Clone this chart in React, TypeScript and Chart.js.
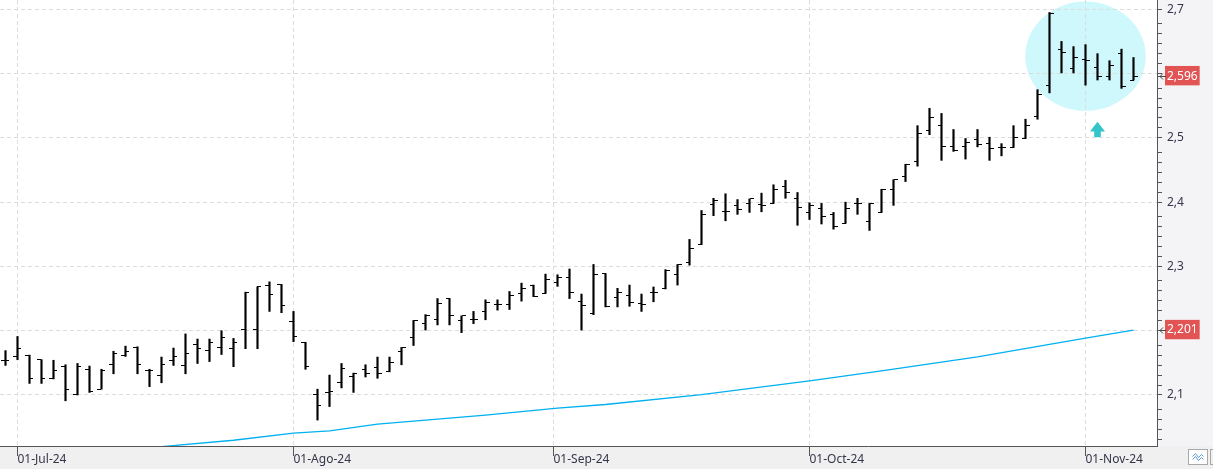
import React, { useEffect, useRef } from 'react';
import { Chart, registerables } from 'chart.js';

Chart.register(...registerables);

// ---- Data (daily OHLC, 28-Jun-24 .. 07-Nov-24; index = trading day) ----
const opens = [
  2.153, 2.160, 2.161, 2.155, 2.126, 2.145, 2.100, 2.139, 2.109, 2.148,
  2.161, 2.174, 2.138, 2.131, 2.153, 2.146, 2.178, 2.169, 2.174, 2.173,
  2.202, 2.202, 2.271, 2.272, 2.215, 2.182, 2.100, 2.104, 2.120, 2.129,
  2.140, 2.142, 2.137, 2.167, 2.190, 2.211, 2.217, 2.250, 2.216, 2.217,
  2.230, 2.240, 2.240, 2.258, 2.271, 2.258, 2.275, 2.282, 2.245, 2.226,
  2.289, 2.251, 2.254, 2.243, 2.259, 2.266, 2.288, 2.306, 2.334, 2.396,
  2.386, 2.394, 2.398, 2.396, 2.398, 2.424, 2.405, 2.384, 2.390, 2.380,
  2.367, 2.398, 2.370, 2.384, 2.420, 2.440, 2.464, 2.512, 2.519, 2.486,
  2.486, 2.497, 2.491, 2.485, 2.485, 2.499, 2.534, 2.581, 2.638, 2.608,
  2.622, 2.610, 2.595, 2.632, 2.590,
];
const highs = [
  2.169, 2.191, 2.162, 2.155, 2.154, 2.147, 2.149, 2.145, 2.140, 2.168,
  2.176, 2.175, 2.140, 2.159, 2.173, 2.195, 2.187, 2.187, 2.200, 2.188,
  2.260, 2.268, 2.276, 2.272, 2.230, 2.182, 2.109, 2.131, 2.149, 2.134,
  2.147, 2.159, 2.159, 2.174, 2.216, 2.225, 2.250, 2.250, 2.223, 2.230,
  2.248, 2.248, 2.261, 2.274, 2.271, 2.288, 2.287, 2.296, 2.257, 2.303,
  2.289, 2.266, 2.271, 2.257, 2.268, 2.295, 2.303, 2.342, 2.387, 2.406,
  2.413, 2.404, 2.405, 2.414, 2.427, 2.434, 2.415, 2.399, 2.398, 2.384,
  2.400, 2.406, 2.398, 2.420, 2.435, 2.459, 2.519, 2.546, 2.538, 2.513,
  2.499, 2.513, 2.501, 2.491, 2.519, 2.529, 2.575, 2.695, 2.650, 2.642,
  2.645, 2.631, 2.620, 2.638, 2.625,
];
const lows = [
  2.146, 2.155, 2.118, 2.118, 2.125, 2.091, 2.100, 2.104, 2.109, 2.133,
  2.160, 2.133, 2.113, 2.119, 2.146, 2.133, 2.149, 2.152, 2.163, 2.144,
  2.172, 2.172, 2.230, 2.228, 2.183, 2.140, 2.061, 2.082, 2.111, 2.104,
  2.128, 2.126, 2.136, 2.147, 2.177, 2.201, 2.209, 2.209, 2.197, 2.211,
  2.217, 2.232, 2.233, 2.246, 2.253, 2.258, 2.269, 2.250, 2.201, 2.225,
  2.237, 2.237, 2.238, 2.230, 2.245, 2.265, 2.271, 2.302, 2.334, 2.379,
  2.371, 2.381, 2.384, 2.385, 2.398, 2.406, 2.364, 2.373, 2.366, 2.358,
  2.367, 2.381, 2.356, 2.384, 2.395, 2.432, 2.456, 2.505, 2.465, 2.479,
  2.467, 2.486, 2.465, 2.472, 2.485, 2.499, 2.529, 2.570, 2.601, 2.601,
  2.582, 2.590, 2.590, 2.577, 2.590,
];
const closes = [
  2.153, 2.173, 2.126, 2.125, 2.138, 2.109, 2.144, 2.105, 2.138, 2.165,
  2.168, 2.148, 2.138, 2.148, 2.160, 2.164, 2.173, 2.182, 2.190, 2.182,
  2.260, 2.268, 2.257, 2.239, 2.191, 2.144, 2.083, 2.105, 2.141, 2.133,
  2.134, 2.134, 2.150, 2.174, 2.216, 2.224, 2.243, 2.223, 2.223, 2.217,
  2.244, 2.240, 2.254, 2.265, 2.253, 2.280, 2.282, 2.260, 2.239, 2.287,
  2.237, 2.259, 2.244, 2.240, 2.259, 2.294, 2.303, 2.328, 2.380, 2.402,
  2.386, 2.388, 2.405, 2.394, 2.420, 2.415, 2.392, 2.394, 2.377, 2.362,
  2.390, 2.398, 2.398, 2.420, 2.435, 2.459, 2.507, 2.532, 2.486, 2.481,
  2.493, 2.490, 2.484, 2.485, 2.501, 2.520, 2.567, 2.694, 2.633, 2.625,
  2.620, 2.595, 2.612, 2.580, 2.596,
];

// Moving average (read at selected trading-day indices)
const maIndex = [12, 13, 19, 24, 27, 31, 40, 46, 50, 58, 67, 73, 81, 90, 94];
const maValues = [2.017, 2.0196, 2.0296, 2.0406, 2.0442, 2.0548, 2.0686, 2.0795, 2.0852, 2.1004, 2.1219, 2.1374, 2.1592, 2.1885, 2.201];

// Axis labels
const monthTickIndex = [1, 24, 45.667, 67, 90];
const monthTickLabels = ['01-Jul-24', '01-Ago-24', '01-Sep-24', '01-Oct-24', '01-Nov-24'];
const majorTicks = [2.0, 2.1, 2.2, 2.3, 2.4, 2.5, 2.6, 2.7];
const hiddenMajorLabels = [2.2, 2.6];
const minorStep = 0.0155;
const lastClose = 2.596;
const lastMA = 2.201;

// Axis ranges
const yMin = 2.02063;
const yMax = 2.71447;
const xMin = -0.45833;
const xMax = 95.95833;

// Annotations (in data units)
const highlight = { index: 90, value: 2.627, halfWidth: 5.02, halfHeight: 0.085 };
const arrowMark = { index: 91, tip: 2.5252, base: 2.5009 };

const FONT = '"Noto Sans", "DejaVu Sans", sans-serif';
const fmt = (v: number, d: number) => v.toFixed(d).replace('.', ',');

function makeTick(side: 'left' | 'right') {
  const c = document.createElement('canvas');
  c.width = 8;
  c.height = 1;
  const g = c.getContext('2d')!;
  g.fillStyle = '#000';
  g.fillRect(side === 'left' ? 0 : 4, 0, 4, 1);
  return c;
}

const decorPlugin = {
  id: 'decor',
  beforeDraw(chart: any) {
    const { ctx, chartArea, width, height, scales } = chart;
    const xs = scales.x, ys = scales.y;
    ctx.save();
    ctx.fillStyle = 'rgb(240,240,240)';
    ctx.fillRect(0, 0, width, height);
    ctx.fillStyle = 'rgb(244,244,247)';
    ctx.fillRect(chartArea.right, 0, width - chartArea.right, chartArea.bottom);
    ctx.fillStyle = '#ffffff';
    ctx.fillRect(chartArea.left, chartArea.top, chartArea.width, chartArea.height);

    ctx.beginPath();
    ctx.rect(chartArea.left, chartArea.top, chartArea.width, chartArea.height);
    ctx.clip();
    // highlight ellipse
    const cx = xs.getPixelForValue(highlight.index);
    const cy = ys.getPixelForValue(highlight.value);
    const rx = xs.getPixelForValue(highlight.index + highlight.halfWidth) - cx;
    const ry = ys.getPixelForValue(highlight.value - highlight.halfHeight) - cy;
    ctx.beginPath();
    ctx.ellipse(cx, cy, rx, ry, 0, 0, Math.PI * 2);
    ctx.fillStyle = 'rgb(206,248,252)';
    ctx.fill();
    // up arrow
    const ax = xs.getPixelForValue(arrowMark.index);
    const tipY = ys.getPixelForValue(arrowMark.tip);
    const baseY = ys.getPixelForValue(arrowMark.base);
    const len = baseY - tipY;
    const headH = len * 0.63;
    const headW = len * 0.48;
    const stemW = len * 0.21;
    ctx.beginPath();
    ctx.moveTo(ax, tipY);
    ctx.lineTo(ax + headW, tipY + headH);
    ctx.lineTo(ax + stemW, tipY + headH);
    ctx.lineTo(ax + stemW, baseY);
    ctx.lineTo(ax - stemW, baseY);
    ctx.lineTo(ax - stemW, tipY + headH);
    ctx.lineTo(ax - headW, tipY + headH);
    ctx.closePath();
    ctx.fillStyle = '#33c5c8';
    ctx.fill();
    ctx.restore();
  },
  beforeDatasetsDraw(chart: any) {
    chart.ctx.imageSmoothingEnabled = false;
  },
  afterDatasetsDraw(chart: any) {
    chart.ctx.imageSmoothingEnabled = true;
  },
  afterDraw(chart: any) {
    const { ctx, chartArea, width, scales } = chart;
    const ys = scales.y;
    ctx.save();
    // small pointers next to the price flags
    ctx.strokeStyle = '#444';
    ctx.lineWidth = 1;
    [lastClose, lastMA].forEach((v) => {
      const y = Math.round(ys.getPixelForValue(v)) + 0.5;
      const x0 = chartArea.right + 2;
      ctx.beginPath();
      ctx.moveTo(x0 + 4, y - 3);
      ctx.lineTo(x0 + 1, y);
      ctx.lineTo(x0 + 4, y + 3);
      ctx.moveTo(x0 + 1, y);
      ctx.lineTo(x0 + 7, y);
      ctx.stroke();
    });
    // bottom-right toolbar icon
    const bx = width - 24.5, by = chartArea.bottom + 3.5;
    ctx.fillStyle = '#ffffff';
    ctx.fillRect(bx, by, 19, 15);
    ctx.strokeStyle = '#a8a8a8';
    ctx.strokeRect(bx, by, 19, 15);
    ctx.strokeRect(width - 2.5, by, 6, 15);
    ctx.strokeStyle = '#5a9bd5';
    ctx.beginPath();
    ctx.moveTo(bx + 4, by + 7);
    ctx.lineTo(bx + 7, by + 4);
    ctx.lineTo(bx + 10, by + 8);
    ctx.lineTo(bx + 13, by + 5);
    ctx.lineTo(bx + 15, by + 7);
    ctx.moveTo(bx + 4, by + 10);
    ctx.lineTo(bx + 7, by + 7);
    ctx.lineTo(bx + 10, by + 11);
    ctx.lineTo(bx + 13, by + 8);
    ctx.lineTo(bx + 15, by + 10);
    ctx.stroke();
    ctx.restore();
  },
};

export default function App() {
  const ref = useRef<HTMLCanvasElement | null>(null);

  useEffect(() => {
    if (!ref.current) return;
    const openTick = makeTick('left');
    const closeTick = makeTick('right');

    const barData = highs.map((h, i) => ({ x: i, y: [lows[i], h] }));
    const openData = opens.map((o, i) => ({ x: i, y: o }));
    const closeData = closes.map((c, i) => ({ x: i, y: c }));
    const maData = maIndex.map((ix, k) => ({ x: ix, y: maValues[k] }));

    const yTickList: any[] = [];
    majorTicks.forEach((m) => {
      yTickList.push({ value: m, kind: 'major' });
      for (let k = 1; k <= 5; k++) yTickList.push({ value: m + k * minorStep, kind: 'minor' });
    });
    yTickList.push({ value: lastClose, kind: 'flag' });
    yTickList.push({ value: lastMA, kind: 'flag' });
    const yTicks = yTickList
      .filter((t) => t.value >= yMin && t.value <= yMax)
      .sort((a, b) => a.value - b.value);

    const chart = new Chart(ref.current, {
      type: 'bar',
      data: {
        datasets: [
          {
            type: 'line',
            data: maData as any,
            borderColor: '#00b0f0',
            borderWidth: 1.3,
            pointRadius: 0,
            tension: 0,
            order: 3,
          } as any,
          {
            type: 'bar',
            data: barData as any,
            backgroundColor: '#000000',
            borderWidth: 0,
            barThickness: 1.5,
            grouped: false,
            order: 2,
          } as any,
          {
            type: 'line',
            data: openData as any,
            showLine: false,
            pointStyle: openTick,
            pointRadius: 4,
            pointHoverRadius: 4,
            order: 1,
          } as any,
          {
            type: 'line',
            data: closeData as any,
            showLine: false,
            pointStyle: closeTick,
            pointRadius: 4,
            pointHoverRadius: 4,
            order: 1,
          } as any,
        ],
      },
      options: {
        responsive: false,
        animation: false,
        events: [],
        layout: { padding: 0, autoPadding: false },
        plugins: { legend: { display: false }, tooltip: { enabled: false } },
        scales: {
          x: {
            type: 'linear',
            position: 'bottom',
            min: xMin,
            max: xMax,
            bounds: 'data',
            offset: false,
            grid: {
              offset: false,
              color: '#dcdcdc',
              lineWidth: 1,
              drawOnChartArea: true,
              drawTicks: true,
              tickLength: 10,
              tickColor: '#555555',
              tickBorderDash: [],
            },
            border: { display: true, color: '#555555', width: 1, dash: [4, 3] },
            ticks: {
              autoSkip: false,
              maxRotation: 0,
              minRotation: 0,
              align: 'start',
              padding: -4,
              color: '#35354a',
              font: { family: FONT, size: 12 },
              callback: (_v: any, i: number) => monthTickLabels[i],
            },
            afterBuildTicks: (scale: any) => {
              scale.ticks = monthTickIndex.map((v) => ({ value: v }));
            },
            afterFit: (scale: any) => {
              scale.height = 23;
              scale.paddingLeft = 0;
              scale.paddingRight = 0;
            },
          } as any,
          y: {
            type: 'linear',
            position: 'right',
            min: yMin,
            max: yMax,
            bounds: 'data',
            beginAtZero: false,
            grid: {
              color: (ctx: any) => (ctx.tick && ctx.tick.kind === 'major' ? '#dcdcdc' : 'rgba(0,0,0,0)'),
              lineWidth: 1,
              drawTicks: true,
              tickLength: 5,
              tickColor: '#555555',
              tickBorderDash: [],
            },
            border: { display: true, color: '#555555', width: 1, dash: [4, 3] },
            ticks: {
              autoSkip: false,
              padding: 5,
              font: { family: FONT, size: 12 },
              color: (ctx: any) => (ctx.tick && ctx.tick.kind === 'flag' ? '#ffffff' : '#35354a'),
              showLabelBackdrop: (ctx: any) => !!(ctx.tick && ctx.tick.kind === 'flag'),
              backdropColor: '#e25454',
              backdropPadding: { top: 3, bottom: 2, left: 2, right: 2 },
              callback: (v: any, i: number, ticks: any[]) => {
                const t = ticks[i];
                if (!t) return '';
                if (t.kind === 'flag') return fmt(t.value, 3);
                if (t.kind === 'major') {
                  if (hiddenMajorLabels.some((h) => Math.abs(h - t.value) < 1e-6)) return '';
                  return fmt(t.value, 1);
                }
                return '';
              },
            },
            afterBuildTicks: (scale: any) => {
              scale.ticks = yTicks.map((t) => ({ ...t }));
            },
            afterFit: (scale: any) => {
              scale.width = 56;
              scale.paddingTop = 0;
              scale.paddingBottom = 0;
            },
          } as any,
        },
      } as any,
      plugins: [decorPlugin],
    });

    return () => chart.destroy();
  }, []);

  return (
    <div style={{ position: 'fixed', left: 0, top: 0, width: 1213, height: 469 }}>
      <canvas ref={ref} width={1213} height={469} />
    </div>
  );
}
